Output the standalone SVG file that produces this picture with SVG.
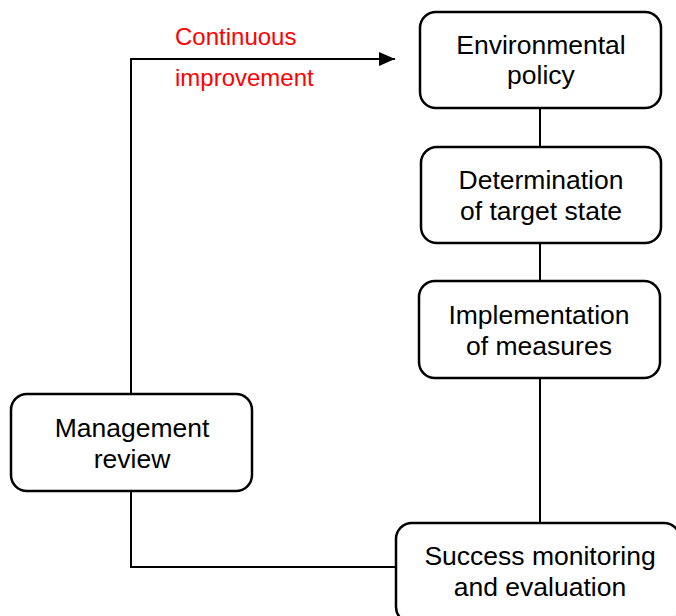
<svg xmlns="http://www.w3.org/2000/svg" width="676" height="616" viewBox="0 0 676 616">
<style>
.box{fill:#fff;stroke:#000;stroke-width:2.5}
.t{font-family:"Liberation Sans",Arial,sans-serif;font-size:26.5px;fill:#000;text-anchor:middle}
.r{font-family:"Liberation Sans",Arial,sans-serif;font-size:24px;fill:#ff0000}
.c{fill:none;stroke:#000;stroke-width:2}
</style>
<defs>
<marker id="ah" markerWidth="16" markerHeight="14" refX="16" refY="7" orient="auto" markerUnits="userSpaceOnUse">
<path d="M0,0 L16,7 L0,14 Z" fill="#000"/>
</marker>
</defs>
<g id="connectors">
<line class="c" x1="540" y1="108" x2="540" y2="146"/>
<line class="c" x1="540" y1="243" x2="540" y2="281"/>
<line class="c" x1="540" y1="378" x2="540" y2="523"/>
<polyline class="c" points="131,491 131,567 396,567"/>
<polyline class="c" points="131,394 131,59 395,59" marker-end="url(#ah)"/>
</g>
<g id="label">
<text class="r" x="175" y="45">Continuous</text>
<text class="r" x="175" y="86">improvement</text>
</g>
<g id="env">
<rect class="box" x="420" y="12" width="241" height="96" rx="16"/>
<text class="t" x="541" y="54">Environmental</text>
<text class="t" x="541" y="84">policy</text>
</g>
<g id="det">
<rect class="box" x="421" y="147" width="240" height="96" rx="16"/>
<text class="t" x="541" y="189">Determination</text>
<text class="t" x="541" y="220">of target state</text>
</g>
<g id="impl">
<rect class="box" x="419" y="281" width="241" height="97" rx="16"/>
<text class="t" x="539" y="324">Implementation</text>
<text class="t" x="539" y="355">of measures</text>
</g>
<g id="mgmt">
<rect class="box" x="11" y="394" width="241" height="97" rx="16"/>
<text class="t" x="132" y="437">Management</text>
<text class="t" x="132" y="468">review</text>
</g>
<g id="success">
<rect class="box" x="396" y="523" width="284" height="100" rx="16"/>
<text class="t" x="540" y="565">Success monitoring</text>
<text class="t" x="540" y="596">and evaluation</text>
</g>
</svg>
